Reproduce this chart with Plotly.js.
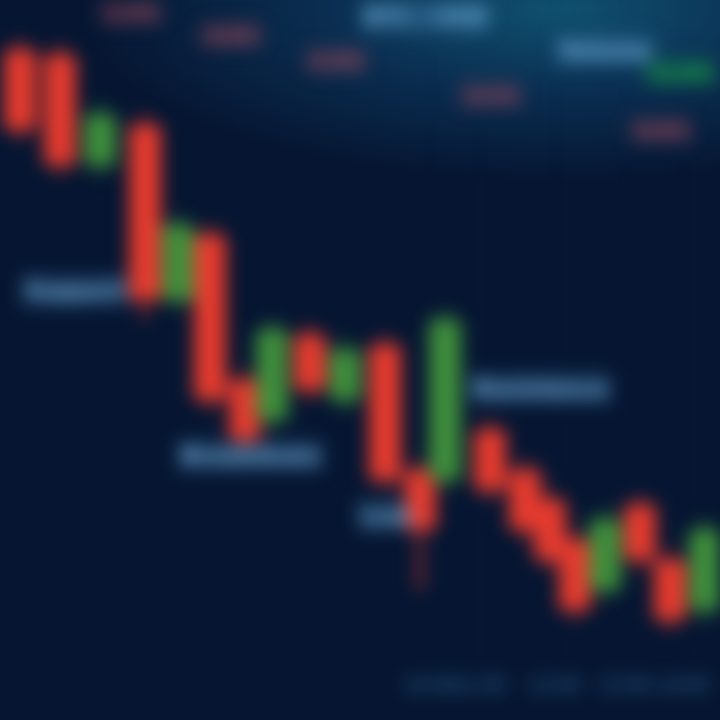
<!DOCTYPE html>
<html>
<head>
<meta charset="utf-8">
<script src="https://cdn.plot.ly/plotly-3.0.1.min.js"></script>
<style>
  html, body { margin:0; padding:0; width:720px; height:720px; overflow:hidden;
    background: radial-gradient(ellipse 480px 170px at 560px 10px, #10506f 0%, #0a2d50 50%, #061632 100%), #061632; }
  #chart { width:720px; height:720px; filter: blur(9px); }
</style>
</head>
<body>
<div id="chart"></div>
<script>
// Session positions and OHLC prices
const t     = [2, 6, 10, 14.5, 17.8, 21, 24.5, 27.2, 31, 34.5, 38.5, 42, 44.5, 49, 52.5, 55, 57.5, 60.5, 64, 67, 70.5];
const open  = [95, 94.5, 83.5, 87.5, 70, 76.5, 62, 58, 66.5, 60, 65.5, 53, 52, 57, 53, 50, 46, 41, 49.5, 44, 39];
const close = [87, 83.5, 88.5, 70, 77.5, 60, 56, 67, 61, 65, 52, 47, 68, 51, 47, 44, 39, 48, 44, 38, 47];
const high  = [96, 95.5, 89.5, 88.5, 78.5, 77.5, 63, 68, 67.5, 66, 66.5, 54, 69, 58, 54, 51, 47, 49, 50.5, 45, 48];
const low   = [86, 82.5, 82.5, 68, 69, 59, 55, 57, 60, 59, 51, 41, 51, 50, 46, 43, 38, 40, 43, 37, 38];

// Chart labels (blurred in the reference)
const labelText = ["Support", "Breakdown", "Low", "Resistance", "BTC / USD", "Volume"];
const labelX    = [7.5, 25, 38.5, 54, 42.5, 60.5];
const labelY    = [71, 54.5, 48.5, 61.2, 98.4, 95];
const topText   = ["-1.2%", "-0.8%", "-2.4%", "-3.1%", "-0.6%", "+1.4%"];
const topX      = [13, 23, 33.5, 49, 66, 71.6];
const topY      = [98.8, 96.5, 94, 90.5, 87, 92.8];
const tickVals  = [43, 48, 55.5, 62.5, 68.3];
const tickText  = ["10:00", "11:00", "12:00", "13:00", "14:00"];

const upC = '#3f8f3c', downC = '#e63b2e';
const up = [], dn = [];
t.forEach((x, i) => (close[i] >= open[i] ? up : dn).push(i));
function bodyTrace(idx, color) {
  return {
    type: 'bar', x: idx.map(i => t[i]),
    base: idx.map(i => Math.min(open[i], close[i])),
    y: idx.map(i => Math.abs(close[i] - open[i])),
    width: 3.2, marker: { color: color, line: { width: 0 } },
    hoverinfo: 'skip', showlegend: false
  };
}
function wickTrace(idx, color) {
  const xs = [], ys = [];
  idx.forEach(i => { xs.push(t[i], t[i], null); ys.push(low[i], high[i], null); });
  return { type: 'scatter', mode: 'lines', x: xs, y: ys, line: { color: color, width: 4 },
    hoverinfo: 'skip', showlegend: false };
}

const annotations = [];
labelText.forEach((s, i) => annotations.push({
  x: labelX[i], y: labelY[i], text: '<b>' + s + '</b>', showarrow: false,
  bgcolor: 'rgba(70,130,180,0.28)', borderpad: 3,
  font: { family: 'DejaVu Sans, sans-serif', size: 22, color: '#74b0da' }
}));
topText.forEach((s, i) => annotations.push({
  x: topX[i], y: topY[i], text: '<b>' + s + '</b>', showarrow: false,
  xanchor: i === 5 ? 'right' : 'center',
  bgcolor: i === 5 ? 'rgba(20,150,70,0.40)' : 'rgba(150,70,85,0.28)', borderpad: 2,
  font: { family: 'DejaVu Sans, sans-serif', size: 18, color: i === 5 ? '#1fa04a' : '#a45060' }
}));

const data = [wickTrace(dn, downC), wickTrace(up, upC), bodyTrace(dn, downC), bodyTrace(up, upC)];
const layout = {
  width: 720, height: 720,
  margin: { l: 0, r: 0, t: 0, b: 48 },
  paper_bgcolor: 'rgba(0,0,0,0)', plot_bgcolor: 'rgba(0,0,0,0)',
  barmode: 'overlay', showlegend: false,
  xaxis: { range: [0, 72], showgrid: true, gridcolor: 'rgba(120,160,220,0.06)', dtick: 1.5,
    zeroline: false, showline: false, tickmode: 'array', tickvals: tickVals, ticktext: tickText,
    tickangle: 0,
    tickfont: { family: 'DejaVu Sans, sans-serif', size: 18, color: '#3a7fb0' }, ticks: '' },
  yaxis: { range: [32.8, 100], showgrid: false, zeroline: false, showticklabels: false },
  annotations: annotations
};
Plotly.newPlot('chart', data, layout, { staticPlot: true, displayModeBar: false });
</script>
</body>
</html>
